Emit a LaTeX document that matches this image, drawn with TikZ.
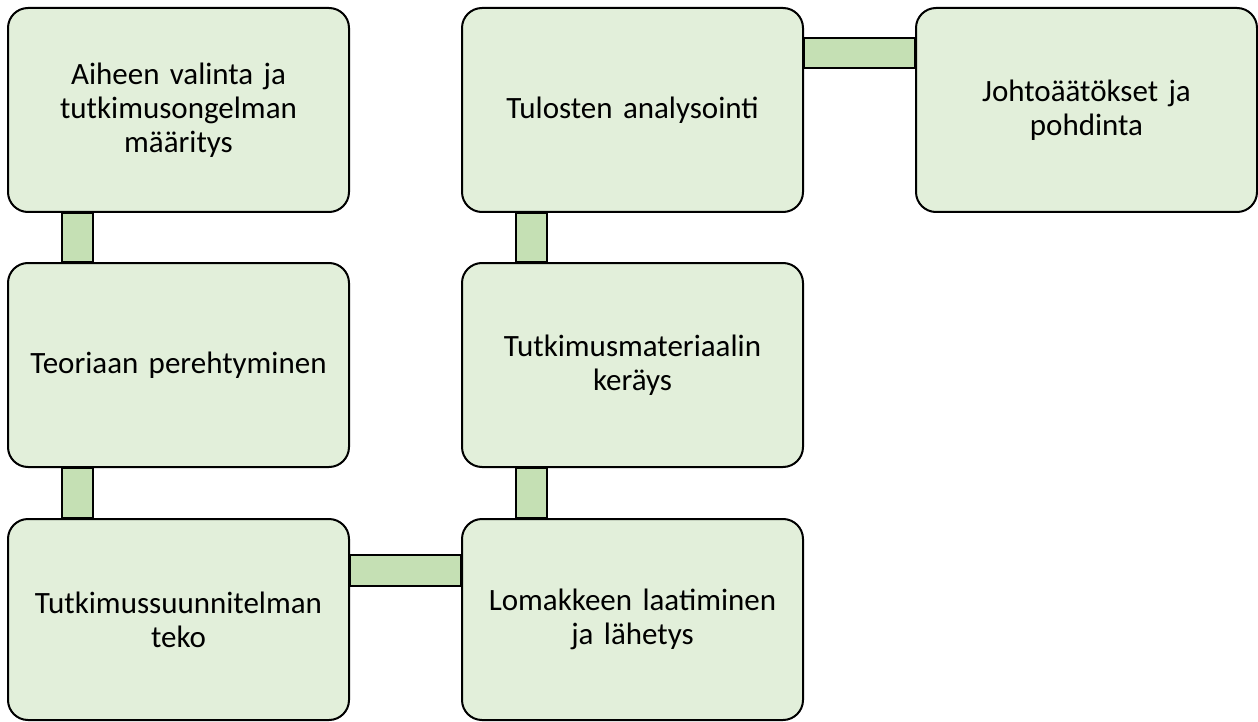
\documentclass[tikz,border=0pt]{standalone}
\usepackage{fontspec}
\setmainfont{Carlito}
\usetikzlibrary{positioning}
\definecolor{boxgreen}{HTML}{E2EFDA}
\definecolor{bargreen}{HTML}{C5E0B4}
\tikzset{
  stage/.style={rectangle, rounded corners=20pt, text width=320pt, minimum width=341pt, minimum height=204pt, text centered, draw=black, line width=2pt, fill=boxgreen, inner sep=0pt, font=\fontsize{31}{34}\selectfont},
  link/.style={draw=black, line width=2pt, fill=bargreen}
}
\begin{document}
\begin{tikzpicture}[x=1pt,y=1pt]
\useasboundingbox (0,0) rectangle (1258,-722);
% left column
\node[stage, anchor=north west] at (7,-7) (S1) {Aiheen valinta ja\\tutkimusongelman\\määritys};
\node[stage, anchor=north] at ([yshift=-49pt]S1.south) (S2) {Teoriaan perehtyminen};
\node[stage, minimum height=201pt, anchor=north] at ([yshift=-50pt]S2.south) (S3) {Tutkimussuunnitelman\\teko};
% middle column
\node[stage, minimum height=201pt, anchor=west] at ([xshift=111pt]S3.east) (S4) {Lomakkeen laatiminen\\ja lähetys};
\node[stage, anchor=south] at ([yshift=50pt]S4.north) (S5) {Tutkimusmateriaalin\\keräys};
\node[stage, anchor=south] at ([yshift=49pt]S5.north) (S6) {Tulosten analysointi};
% right column
\node[stage, anchor=west] at ([xshift=111pt]S6.east) (S7) {Johtoäätökset ja\\pohdinta};
% links
\draw[link] ([xshift=55pt]S1.south west) rectangle ([xshift=86pt]S2.north west);
\draw[link] ([xshift=55pt]S2.south west) rectangle ([xshift=86pt]S3.north west);
\draw[link] ([yshift=-37pt]S3.north east) rectangle ([yshift=-68pt]S4.north west);
\draw[link] ([xshift=55pt]S5.south west) rectangle ([xshift=86pt]S4.north west);
\draw[link] ([xshift=55pt]S6.south west) rectangle ([xshift=86pt]S5.north west);
\draw[link] ([yshift=-31pt]S6.north east) rectangle ([yshift=-61pt]S7.north west);
\end{tikzpicture}
\end{document}
